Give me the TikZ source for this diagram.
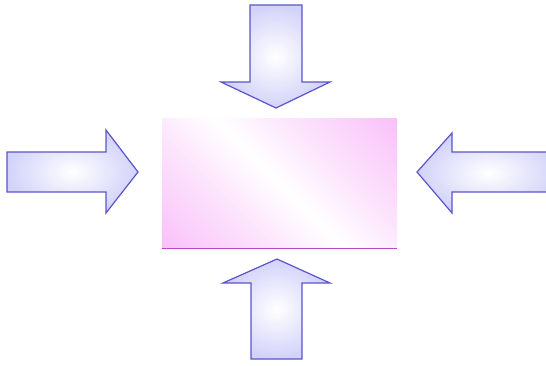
\documentclass[tikz,border=0pt]{standalone}
\usetikzlibrary{shadings}
\definecolor{arrowline}{HTML}{5A55C8}
\definecolor{arrowfill}{HTML}{D2D2FA}
\definecolor{boxpink}{HTML}{F6A8F6}
\definecolor{boxline}{HTML}{B848C8}
\pgfdeclarehorizontalshading{pinkdiag}{100bp}{color(0bp)=(boxpink); color(36bp)=(boxpink!30!white); color(50bp)=(white); color(64bp)=(boxpink!30!white); color(100bp)=(boxpink)}
\tikzset{
  bigarrow/.style={draw=arrowline, line width=1.2pt, line join=miter, inner color=white, outer color=arrowfill},
  pinkbox/.style={shading=pinkdiag, shading angle=45}
}
\begin{document}
\begin{tikzpicture}[x=1pt,y=-1pt]
\useasboundingbox (0,0) rectangle (546,365);
% central box
\node[pinkbox, minimum width=235pt, minimum height=130pt, inner sep=0pt, anchor=north west] (box) at (162,118) {};
\draw[boxline, line width=1pt] (box.south west) -- (box.south east);
% left arrow (pointing right)
\path[bigarrow] (7,152) -- (106,152) -- (106,130) -- (138,172) -- (106,213) -- (106,192) -- (7,192) -- cycle;
% right arrow (pointing left)
\path[bigarrow] (560,152) -- (452,152) -- (452,133) -- (417,172) -- (452,213) -- (452,192) -- (560,192) -- cycle;
% top arrow (pointing down)
\path[bigarrow] (250,5) -- (302,5) -- (302,82) -- (330,82) -- (276,108) -- (221,82) -- (250,82) -- cycle;
% bottom arrow (pointing up)
\path[bigarrow] (251,359) -- (302,359) -- (302,283) -- (330,283) -- (277,259) -- (223,283) -- (251,283) -- cycle;
\end{tikzpicture}
\end{document}
